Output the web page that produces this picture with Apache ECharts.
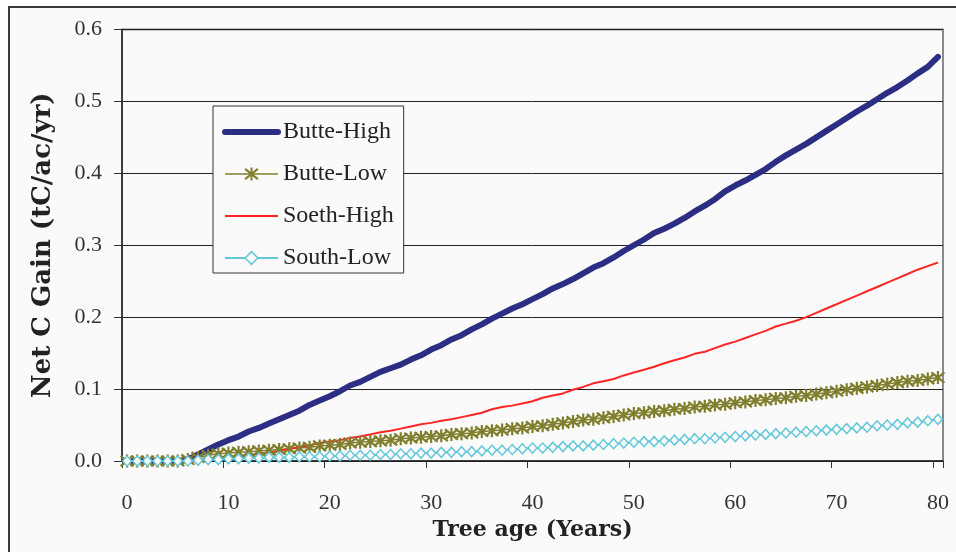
<!DOCTYPE html>
<html>
<head>
<meta charset="utf-8">
<script src="https://cdn.jsdelivr.net/npm/echarts@6/dist/echarts.min.js"></script>
<style>
  html, body { margin: 0; padding: 0; background: #ffffff; }
  #chart { width: 956px; height: 552px; }
</style>
</head>
<body>
<div id="chart"></div>
<script>
// ---- Data ----
const ages = Array.from({length: 81}, (_, i) => String(i)); // category labels 0..80

const butteHigh = [
  0, 0, 0, 0, 0, 0, 0.002, 0.009, 0.016, 0.023,
  0.029, 0.034, 0.041, 0.046, 0.052, 0.058, 0.064, 0.070, 0.078, 0.084,
  0.090, 0.097, 0.105, 0.110, 0.117, 0.124, 0.129, 0.134, 0.141, 0.147,
  0.155, 0.161, 0.169, 0.175, 0.183, 0.190, 0.198, 0.205, 0.212, 0.218,
  0.225, 0.232, 0.240, 0.246, 0.253, 0.261, 0.269, 0.275, 0.283, 0.292,
  0.300, 0.308, 0.317, 0.323, 0.330, 0.338, 0.347, 0.355, 0.364, 0.375,
  0.383, 0.390, 0.398, 0.406, 0.416, 0.425, 0.433, 0.441, 0.450, 0.459,
  0.468, 0.477, 0.486, 0.494, 0.503, 0.512, 0.520, 0.529, 0.539, 0.548,
  0.562
];

const butteLow = [
  0, 0, 0, 0, 0, 0, 0.002, 0.005, 0.008, 0.010,
  0.011, 0.012, 0.013, 0.014, 0.015, 0.016, 0.017, 0.018, 0.019, 0.021,
  0.022, 0.023, 0.025, 0.026, 0.027, 0.028, 0.029, 0.031, 0.032, 0.033,
  0.034, 0.035, 0.037, 0.038, 0.039, 0.041, 0.042, 0.043, 0.045, 0.046,
  0.048, 0.049, 0.051, 0.053, 0.055, 0.057, 0.058, 0.060, 0.062, 0.064,
  0.066, 0.067, 0.069, 0.070, 0.072, 0.073, 0.075, 0.076, 0.078, 0.079,
  0.081, 0.082, 0.084, 0.085, 0.087, 0.088, 0.090, 0.091, 0.093, 0.095,
  0.097, 0.099, 0.101, 0.103, 0.105, 0.107, 0.109, 0.111, 0.112, 0.114,
  0.116
];

const soethHigh = [
  0, 0, 0, 0, 0, 0, 0, 0, 0.002, 0.003,
  0.005, 0.006, 0.008, 0.010, 0.012, 0.014, 0.017, 0.019, 0.022, 0.025,
  0.027, 0.029, 0.032, 0.034, 0.037, 0.040, 0.042, 0.045, 0.048, 0.051,
  0.053, 0.056, 0.058, 0.061, 0.064, 0.067, 0.072, 0.075, 0.077, 0.080,
  0.083, 0.088, 0.091, 0.094, 0.099, 0.103, 0.108, 0.111, 0.114, 0.119,
  0.123, 0.127, 0.131, 0.136, 0.140, 0.144, 0.149, 0.152, 0.157, 0.162,
  0.166, 0.171, 0.176, 0.181, 0.187, 0.191, 0.195, 0.200, 0.206, 0.212,
  0.218, 0.224, 0.230, 0.236, 0.242, 0.248, 0.254, 0.260, 0.266, 0.271,
  0.276
];

const southLow = [
  0, 0, 0, 0, 0, 0, 0, 0.001, 0.002, 0.002,
  0.003, 0.003, 0.004, 0.004, 0.005, 0.005, 0.005, 0.006, 0.006, 0.006,
  0.007, 0.007, 0.008, 0.008, 0.008, 0.009, 0.009, 0.010, 0.010, 0.011,
  0.011, 0.012, 0.012, 0.013, 0.013, 0.014, 0.015, 0.015, 0.016, 0.017,
  0.018, 0.018, 0.019, 0.020, 0.021, 0.021, 0.022, 0.023, 0.024, 0.025,
  0.026, 0.027, 0.027, 0.028, 0.029, 0.030, 0.031, 0.031, 0.032, 0.033,
  0.034, 0.035, 0.036, 0.037, 0.038, 0.039, 0.040, 0.041, 0.042, 0.043,
  0.044, 0.045, 0.046, 0.047, 0.049, 0.050, 0.051, 0.053, 0.054, 0.056,
  0.058
];

const seriesNames = ['Butte-High', 'Butte-Low', 'Soeth-High', 'South-Low'];
const xTitle = 'Tree age (Years)';
const yTitle = 'Net C Gain (tC/ac/yr)';

// ---- Chart ----
const chart = echarts.init(document.getElementById('chart'), null, {renderer: 'canvas'});

const serif = 'Liberation Serif';
const boldSerif = 'DejaVu Serif';
const asterisk = 'path://M5,0 L5,10 M0.5,1 L9.5,9 M9.5,1 L0.5,9';

const C_BH = '#2b2e82', C_BL = '#7f7f2e', C_SH = '#ff2525', C_SL = '#63c7da';

const option = {
  animation: false,
  backgroundColor: '#ffffff',
  graphic: [{
    type: 'rect',
    z: -10,
    silent: true,
    shape: {x: 9, y: 7, width: 960, height: 560},
    style: {fill: '#fafafa', stroke: '#3a3a3a', lineWidth: 2}
  }],
  grid: {
    left: 122, right: 13, top: 29.5, bottom: 91,
    show: true,
    backgroundColor: 'transparent',
    borderColor: '#8a8a8a',
    borderWidth: 2
  },
  legend: {
    orient: 'vertical',
    left: 213, top: 106,
    itemWidth: 53, itemHeight: 16,
    itemGap: 18,
    padding: [14, 10, 3, 9],
    borderColor: '#333333', borderWidth: 1,
    backgroundColor: '#fafafa',
    textStyle: {fontFamily: serif, fontSize: 24, color: '#222222'},
    data: [
      {name: seriesNames[0], lineStyle: {width: 6, color: C_BH, cap: 'round'},
       itemStyle: {color: 'rgba(0,0,0,0)', borderWidth: 0}},
      {name: seriesNames[1], lineStyle: {width: 1.5, color: C_BL},
       itemStyle: {color: 'rgba(0,0,0,0)', borderColor: C_BL, borderWidth: 2}},
      {name: seriesNames[2], lineStyle: {width: 2, color: C_SH},
       itemStyle: {color: 'rgba(0,0,0,0)', borderWidth: 0}},
      {name: seriesNames[3], lineStyle: {width: 2, color: C_SL},
       itemStyle: {color: '#fafafa', borderColor: C_SL, borderWidth: 1.5}}
    ]
  },
  xAxis: {
    type: 'category',
    data: ages,
    boundaryGap: true,
    name: xTitle,
    nameLocation: 'middle',
    nameGap: 47,
    nameTextStyle: {fontFamily: boldSerif, fontWeight: 'bold', fontSize: 22, color: '#222222'},
    axisLine: {lineStyle: {color: '#222222', width: 1.5}},
    axisTick: {show: true, interval: 9, length: 7, lineStyle: {color: '#333333', width: 1}},
    axisLabel: {interval: 9, fontFamily: serif, fontSize: 22, color: '#333333', margin: 31},
    splitLine: {show: false}
  },
  yAxis: {
    type: 'value',
    min: 0, max: 0.6, interval: 0.1,
    name: yTitle,
    nameLocation: 'middle',
    nameGap: 66,
    nameTextStyle: {fontFamily: boldSerif, fontWeight: 'bold', fontSize: 26, color: '#222222'},
    axisLine: {show: true, lineStyle: {color: '#222222', width: 1.5}},
    axisTick: {show: true, length: 8, lineStyle: {color: '#333333', width: 1}},
    axisLabel: {fontFamily: serif, fontSize: 22, color: '#333333', margin: 20,
      formatter: v => v.toFixed(1)},
    splitLine: {show: true, lineStyle: {color: '#222222', width: 1}}
  },
  series: [
    {
      name: seriesNames[0], type: 'line', data: butteHigh,
      showSymbol: false, symbol: 'none',
      lineStyle: {color: C_BH, width: 6, cap: 'round', join: 'round'},
      itemStyle: {color: C_BH}
    },
    {
      name: seriesNames[1], type: 'line', data: butteLow,
      symbol: asterisk, symbolSize: 13, showAllSymbol: true,
      lineStyle: {color: C_BL, width: 1.5},
      itemStyle: {color: 'rgba(0,0,0,0)', borderColor: C_BL, borderWidth: 2.2}
    },
    {
      name: seriesNames[2], type: 'line', data: soethHigh,
      showSymbol: false, symbol: 'none',
      lineStyle: {color: C_SH, width: 2},
      itemStyle: {color: C_SH}
    },
    {
      name: seriesNames[3], type: 'line', data: southLow,
      symbol: 'diamond', symbolSize: [9, 10], showAllSymbol: true,
      lineStyle: {color: C_SL, width: 2},
      itemStyle: {color: '#fafafa', borderColor: C_SL, borderWidth: 1.5}
    }
  ]
};

chart.setOption(option);
</script>
</body>
</html>
